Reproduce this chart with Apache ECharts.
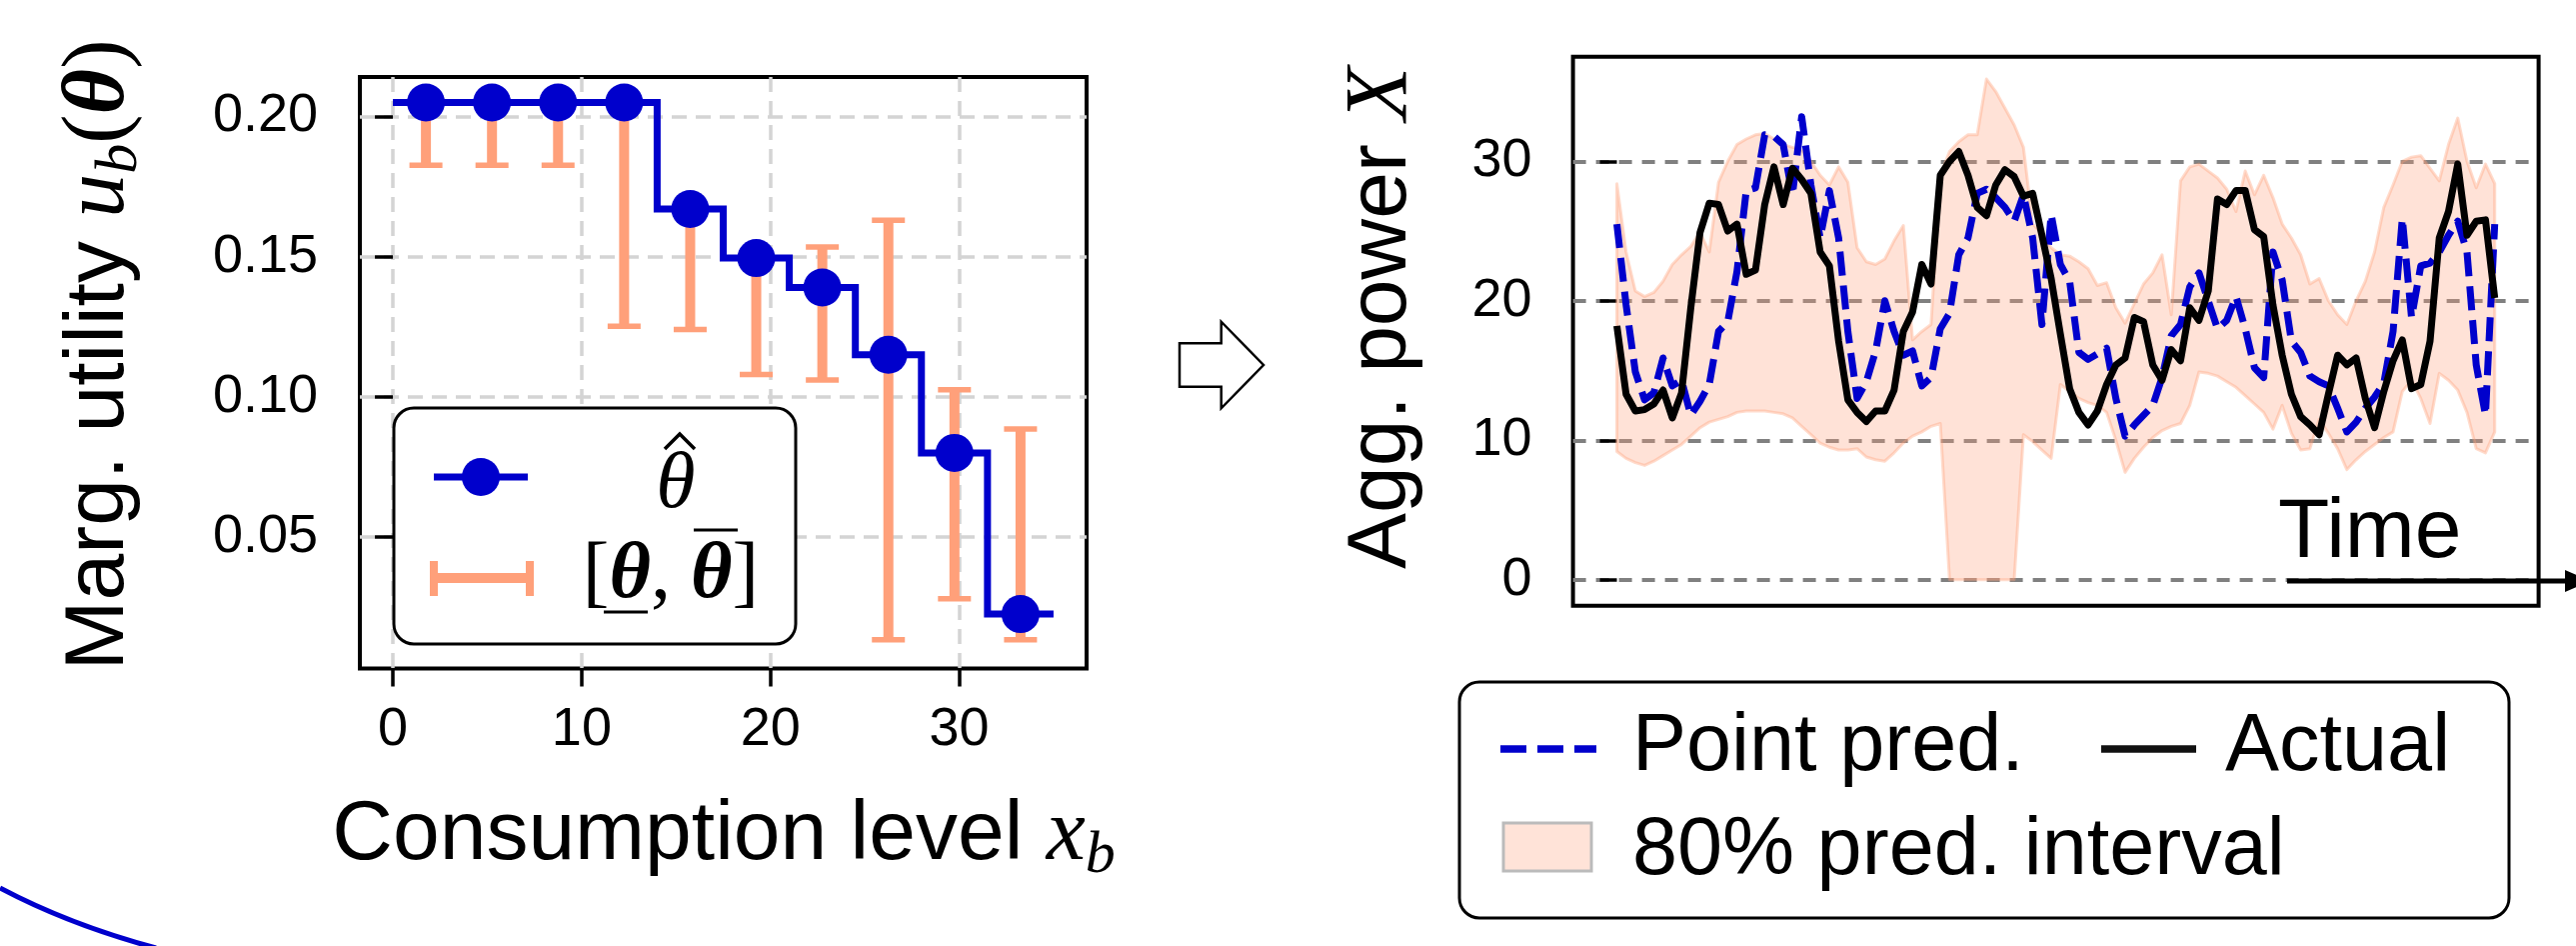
<!DOCTYPE html>
<html><head><meta charset="utf-8">
<script src="https://cdn.jsdelivr.net/npm/echarts@6/dist/echarts.min.js"></script>
<style>html,body{margin:0;padding:0;background:#fff;}#c{width:2577px;height:946px;}</style>
</head><body><div id="c"></div>
<script>
// ---------------- Left panel data ----------------
const levelX    = [1.75, 5.25, 8.75, 12.25, 15.75, 19.25, 22.75, 26.25, 29.75, 33.25];
const thetaHat  = [0.205, 0.205, 0.205, 0.205, 0.167, 0.1495, 0.139, 0.115, 0.080, 0.0225];
const thetaLow  = [0.1826, 0.1826, 0.1826, 0.1252, 0.124, 0.108, 0.106, 0.0134, 0.028, 0.0134];
const thetaHigh = [0.205, 0.205, 0.205, 0.205, 0.167, 0.1495, 0.1535, 0.163, 0.1025, 0.0885];
const stepStartX = 0, stepEndX = 35;
const leftXTicks = [0, 10, 20, 30];
const leftYTicks = [0.05, 0.10, 0.15, 0.20];

// ---------------- Right panel data ----------------
const actualPower = [18.2,13.3,12.1,12.2,12.6,13.6,11.6,13.4,19.5,24.9,
 27.0,26.9,25.0,25.5,21.9,22.2,26.9,29.6,26.9,29.5,
 28.7,27.7,23.5,22.5,17.1,12.9,12.0,11.35,12.1,12.1,
 13.6,17.8,19.2,22.6,21.2,29.0,30.0,30.7,29.0,26.7,
 26.1,28.3,29.4,28.9,27.5,27.7,24.7,21.6,17.6,13.7,
 12.0,11.1,12.1,14.0,15.4,15.9,18.8,18.5,15.4,14.3,
 16.5,15.7,19.5,18.6,20.7,27.3,26.9,27.9,27.9,25.1,
 24.6,19.7,16.1,13.3,11.7,11.1,10.4,13.3,16.1,15.4,
 15.9,13.0,10.9,13.5,15.7,17.2,13.7,14.0,17.1,24.5,
 26.4,29.8,24.7,25.7,25.8,20.2];
const pointPred = [25.5,19.7,14.9,12.9,13.4,15.9,13.9,14.3,11.8,12.8,
 14.0,17.8,18.5,22.1,27.9,28.1,31.9,31.8,31.2,27.6,
 33.2,28.3,24.5,27.9,24.5,17.8,13.0,14.2,16.4,20.0,
 17.8,16.1,16.4,13.9,14.5,18.0,19.1,23.3,24.5,27.7,
 28.0,27.4,26.7,25.7,27.6,24.5,18.3,26.2,22.6,21.4,
 16.3,15.8,16.2,16.6,13.0,10.3,11.1,11.8,12.5,14.5,
 17.5,18.3,21.0,22.0,20.0,18.0,18.6,20.3,18.0,15.2,
 14.5,23.5,21.5,17.1,16.3,14.6,14.2,13.9,12.3,10.6,
 11.3,12.3,13.1,14.1,17.8,25.9,18.8,22.5,22.7,23.5,
 24.7,25.7,23.5,15.4,11.8,25.5];
const predLow = [9.2,8.7,8.4,8.2,8.5,8.9,9.3,9.7,10.3,10.9,
 11.3,11.5,11.7,12.0,12.1,12.1,12.1,12.0,11.9,11.6,
 11.0,10.4,9.8,9.5,9.3,9.3,9.4,8.8,8.6,8.5,
 9.1,9.8,10.3,10.6,11.0,11.2,0,0,0,0,
 0,0,0,0,10.4,9.9,9.3,8.7,14.0,13.5,
 13.0,12.7,12.5,12.0,10.0,7.7,8.7,9.5,10.2,10.7,
 11.0,11.2,12.5,14.9,14.8,14.6,14.2,13.8,13.2,12.6,
 12.0,10.8,12.5,10.5,9.3,9.4,11.5,10.5,9.4,7.9,
 8.6,9.2,9.7,10.2,10.6,13.5,14.3,13.0,11.2,14.8,
 14.3,13.6,12.0,9.4,9.1,10.6];
const predHigh = [28.4,23.5,20.7,20.3,20.6,21.4,22.6,23.3,23.9,24.9,
 23.5,28.5,30.0,31.2,31.6,31.9,32.0,31.6,31.2,31.0,
 30.8,30.0,29.0,28.3,29.6,28.5,23.8,22.8,22.6,23.0,
 24.3,25.4,17.2,17.8,18.3,29.0,30.7,31.4,31.9,31.9,
 35.9,35.0,33.8,32.6,31.0,25.5,24.8,23.8,23.3,23.2,
 22.8,22.3,21.1,21.3,19.5,18.4,19.8,21.2,22.0,23.3,
 19.0,28.6,29.6,29.8,29.3,28.8,28.0,26.4,29.3,27.6,
 29.0,27.4,25.5,24.5,23.3,21.2,21.6,20.0,19.0,18.3,
 20.0,21.4,23.5,26.7,28.3,30.0,30.3,30.4,29.5,28.6,
 31.2,33.1,30.0,28.1,29.8,28.4];
const rightYTicks = [0, 10, 20, 30];

// ---------------- styling ----------------
const SANS = "'Liberation Sans', Arial, Helvetica, sans-serif";
const SERIF = "'Liberation Serif', 'DejaVu Serif', serif";
const BLUE = '#0000CC';
const SALMON = '#FFA07A';
const BAND_FILL = 'rgba(255,160,122,0.30)';
const BAND_EDGE = 'rgba(255,160,122,0.38)';

const chart = echarts.init(document.getElementById('c'), null, {renderer: 'canvas'});

const nPts = actualPower.length;
const xPad = 0.05 * (nPts - 1);
const withIdx = arr => arr.map((v, i) => [i, v]);

const stepData = [[stepStartX, thetaHat[0]]]
  .concat(levelX.map((x, i) => [x, thetaHat[i]]))
  .concat([[stepEndX, thetaHat[thetaHat.length - 1]]]);

const option = {
  animation: false,
  backgroundColor: '#fff',
  grid: [
    {left: 360, top: 77, width: 727, height: 591.5, show: true, borderColor: '#000', borderWidth: 4, backgroundColor: 'transparent'},
    {left: 1573.6, top: 56.7, width: 966, height: 549, show: true, borderColor: '#000', borderWidth: 4, backgroundColor: 'transparent'}
  ],
  xAxis: [
    {type: 'value', gridIndex: 0, min: -1.75, max: 36.75,
     axisLine: {show: false},
     axisTick: {show: true, length: 18, lineStyle: {color: '#000', width: 3.5}, customValues: leftXTicks},
     axisLabel: {show: true, customValues: leftXTicks, fontFamily: SANS, fontSize: 54, lineHeight: 54, color: '#000', margin: 35},
     splitLine: {show: true, lineStyle: {color: '#d4d4d4', width: 3.5, type: [15, 9]}}},
    {type: 'value', gridIndex: 1, min: -xPad, max: (nPts - 1) + xPad,
     axisLine: {show: false}, axisTick: {show: false}, axisLabel: {show: false}, splitLine: {show: false}}
  ],
  yAxis: [
    {type: 'value', gridIndex: 0, min: 0.0031, max: 0.2141,
     axisLine: {show: false},
     axisTick: {show: true, length: 18, lineStyle: {color: '#000', width: 3.5}, customValues: leftYTicks},
     axisLabel: {show: true, customValues: leftYTicks, fontFamily: SANS, fontSize: 54, color: '#000', margin: 42,
                 formatter: v => v.toFixed(2)},
     splitLine: {show: true, lineStyle: {color: '#d4d4d4', width: 3.5, type: [15, 9]}}},
    {type: 'value', gridIndex: 1, min: -1.86, max: 37.5,
     axisLine: {show: false},
     axisTick: {show: true, length: 17, lineStyle: {color: '#000', width: 3.5}, customValues: rightYTicks},
     axisLabel: {show: true, customValues: rightYTicks, fontFamily: SANS, fontSize: 54, color: '#000', margin: 41},
     splitLine: {show: true, lineStyle: {color: '#808080', width: 4, type: [13, 10]}}}
  ],
  series: [
    // error bars
    {type: 'custom', xAxisIndex: 0, yAxisIndex: 0, z: 2,
     data: levelX.map((x, i) => [x, thetaLow[i], thetaHigh[i]]),
     encode: {x: 0, y: [1, 2]},
     renderItem: function (params, api) {
       const x = api.value(0);
       const lo = api.coord([x, api.value(1)]);
       const hi = api.coord([x, api.value(2)]);
       const cw = 16.5;
       return {type: 'group', children: [
         {type: 'line', shape: {x1: lo[0], y1: lo[1], x2: hi[0], y2: hi[1]}, style: {stroke: SALMON, lineWidth: 10}},
         {type: 'line', shape: {x1: lo[0] - cw, y1: lo[1], x2: lo[0] + cw, y2: lo[1]}, style: {stroke: SALMON, lineWidth: 5.5}},
         {type: 'line', shape: {x1: hi[0] - cw, y1: hi[1], x2: hi[0] + cw, y2: hi[1]}, style: {stroke: SALMON, lineWidth: 5.5}}
       ]};
     }},
    // step line
    {type: 'line', xAxisIndex: 0, yAxisIndex: 0, z: 3, step: 'middle', data: stepData,
     symbol: 'none', lineStyle: {color: BLUE, width: 7, join: 'miter'}},
    // markers
    {type: 'scatter', xAxisIndex: 0, yAxisIndex: 0, z: 4, symbolSize: 38,
     data: levelX.map((x, i) => [x, thetaHat[i]]), itemStyle: {color: BLUE, opacity: 1}},
    // 80% prediction band (one polygon through the axis scales)
    {type: 'custom', xAxisIndex: 1, yAxisIndex: 1, z: 2,
     data: predLow.map((v, i) => [i, v, predHigh[i]]),
     encode: {x: 0, y: [1, 2]},
     renderItem: function (params, api) {
       if (params.dataIndex !== 0) return null;
       const up = predHigh.map((v, i) => api.coord([i, v]));
       const lo = predLow.map((v, i) => api.coord([i, v]));
       const pts = up.concat(lo.slice().reverse());
       return {type: 'polygon', shape: {points: pts},
               style: {fill: BAND_FILL, stroke: BAND_EDGE, lineWidth: 3, lineJoin: 'round'}};
     }},
    // point prediction
    {type: 'line', xAxisIndex: 1, yAxisIndex: 1, z: 3, data: withIdx(pointPred), symbol: 'none',
     lineStyle: {color: BLUE, width: 7, type: [24, 10], cap: 'butt', join: 'round'}},
    // actual
    {type: 'line', xAxisIndex: 1, yAxisIndex: 1, z: 4, data: withIdx(actualPower), symbol: 'none',
     lineStyle: {color: '#000', width: 7, join: 'round'}}
  ],
  graphic: [
    // left y title
    {type: 'text', x: 100, y: 355, rotation: Math.PI / 2, z: 10,
     style: {text: '{s|Marg. utility }{m|u}{sub|b}{p|(}{bt|θ}{p|)}', align: 'center', verticalAlign: 'middle',
       rich: {
         s: {fontFamily: SANS, fontSize: 84, lineHeight: 100, fill: '#000'},
         m: {fontFamily: SERIF, fontStyle: 'italic', fontSize: 88, lineHeight: 100, fill: '#000'},
         sub: {fontFamily: SERIF, fontStyle: 'italic', fontSize: 60, lineHeight: 60, verticalAlign: 'bottom', fill: '#000'},
         p: {fontFamily: SERIF, fontSize: 88, lineHeight: 100, fill: '#000'},
         bt: {fontFamily: SERIF, fontStyle: 'italic', fontWeight: 'bold', fontSize: 88, lineHeight: 100, fill: '#000'}
       }}},
    // left x title
    {type: 'text', x: 724, y: 836, z: 10,
     style: {text: '{s|Consumption level }{m|x}{sub|b}', align: 'center', verticalAlign: 'middle',
       rich: {
         s: {fontFamily: SANS, fontSize: 84, lineHeight: 100, fill: '#000'},
         m: {fontFamily: SERIF, fontStyle: 'italic', fontSize: 88, lineHeight: 100, fill: '#000'},
         sub: {fontFamily: SERIF, fontStyle: 'italic', fontSize: 60, lineHeight: 60, verticalAlign: 'bottom', fill: '#000'}
       }}},
    // right y title
    {type: 'text', x: 1383, y: 318, rotation: Math.PI / 2, z: 10,
     style: {text: '{s|Agg. power }{m|X}', align: 'center', verticalAlign: 'middle',
       rich: {
         s: {fontFamily: SANS, fontSize: 84, lineHeight: 100, fill: '#000'},
         m: {fontFamily: SERIF, fontStyle: 'italic', fontSize: 88, lineHeight: 100, fill: '#000'}
       }}},
    // Time label and arrow
    {type: 'text', x: 2279, y: 534, z: 10,
     style: {text: 'Time', fontFamily: SANS, fontSize: 84, fill: '#000', align: 'left', verticalAlign: 'middle'}},
    {type: 'line', z: 10, shape: {x1: 2288, y1: 581, x2: 2572, y2: 581}, style: {stroke: '#000', lineWidth: 5}},
    {type: 'polygon', z: 10, shape: {points: [[2566, 570], [2566, 592], [2592, 581]]}, style: {fill: '#000'}},
    // hollow arrow between panels
    {type: 'polygon', z: 10,
     shape: {points: [[1180, 343.3], [1221.7, 343.3], [1221.7, 321.7], [1264, 365], [1221.7, 408.3], [1221.7, 386.7], [1180, 386.7]]},
     style: {fill: '#fff', stroke: '#000', lineWidth: 2.5}},
    // blue arc, bottom-left corner
    {type: 'bezierCurve', z: 10, shape: {x1: 0, y1: 888, cpx1: 70, cpy1: 925, x2: 156, y2: 948},
     style: {stroke: BLUE, lineWidth: 5, fill: null}},
    // ---------- left legend ----------
    {type: 'rect', z: 20, shape: {x: 394, y: 408, width: 402, height: 236, r: 20},
     style: {fill: '#fff', stroke: '#000', lineWidth: 3}},
    {type: 'line', z: 21, shape: {x1: 434, y1: 477, x2: 528, y2: 477}, style: {stroke: BLUE, lineWidth: 7}},
    {type: 'circle', z: 21, shape: {cx: 481, cy: 477, r: 19}, style: {fill: BLUE}},
    {type: 'text', z: 21, x: 676, y: 486,
     style: {text: 'θ', fontFamily: SERIF, fontStyle: 'italic', fontSize: 80, fill: '#000', align: 'center', verticalAlign: 'middle'}},
    {type: 'polyline', z: 21, shape: {points: [[665, 449], [680, 434], [695, 449]]},
     style: {stroke: '#000', lineWidth: 3.5, fill: null}},
    {type: 'line', z: 21, shape: {x1: 434, y1: 578, x2: 530, y2: 578}, style: {stroke: SALMON, lineWidth: 10}},
    {type: 'line', z: 21, shape: {x1: 434, y1: 561, x2: 434, y2: 596}, style: {stroke: SALMON, lineWidth: 8}},
    {type: 'line', z: 21, shape: {x1: 530, y1: 561, x2: 530, y2: 596}, style: {stroke: SALMON, lineWidth: 8}},
    {type: 'text', z: 21, x: 671, y: 576,
     style: {text: '{p|[}{t|θ}{p|, }{t|θ}{p|]}', align: 'center', verticalAlign: 'middle',
       rich: {
         p: {fontFamily: SERIF, fontSize: 80, lineHeight: 100, fill: '#000'},
         t: {fontFamily: SERIF, fontStyle: 'italic', fontWeight: 'bold', fontSize: 80, lineHeight: 100, fill: '#000'}
       }}},
    {type: 'line', z: 21, shape: {x1: 604, y1: 612, x2: 648, y2: 612}, style: {stroke: '#000', lineWidth: 3}},
    {type: 'line', z: 21, shape: {x1: 694, y1: 530, x2: 738, y2: 530}, style: {stroke: '#000', lineWidth: 3}},
    // ---------- right legend ----------
    {type: 'rect', z: 20, shape: {x: 1460, y: 682, width: 1050, height: 236, r: 20},
     style: {fill: '#fff', stroke: '#000', lineWidth: 3}},
    {type: 'line', z: 21, shape: {x1: 1501, y1: 749, x2: 1597, y2: 749},
     style: {stroke: BLUE, lineWidth: 7.5, lineDash: [26, 11], lineCap: 'butt'}},
    {type: 'text', z: 21, x: 1633, y: 748,
     style: {text: 'Point pred.', fontFamily: SANS, fontSize: 81, fill: '#000', align: 'left', verticalAlign: 'middle'}},
    {type: 'line', z: 21, shape: {x1: 2102, y1: 749, x2: 2197, y2: 749}, style: {stroke: '#111', lineWidth: 7.5}},
    {type: 'text', z: 21, x: 2226, y: 748,
     style: {text: 'Actual', fontFamily: SANS, fontSize: 81, fill: '#000', align: 'left', verticalAlign: 'middle'}},
    {type: 'rect', z: 21, shape: {x: 1504, y: 823, width: 88, height: 48},
     style: {fill: '#FFE3D8', stroke: '#BBBBBB', lineWidth: 3}},
    {type: 'text', z: 21, x: 1633, y: 852,
     style: {text: '80% pred. interval', fontFamily: SANS, fontSize: 81, fill: '#000', align: 'left', verticalAlign: 'middle'}}
  ]
};
chart.setOption(option);
</script></body></html>
